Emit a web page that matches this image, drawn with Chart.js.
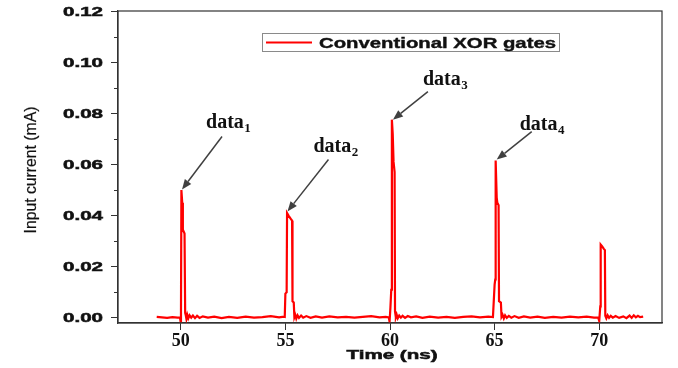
<!DOCTYPE html>
<html>
<head>
<meta charset="utf-8">
<script src="https://cdn.jsdelivr.net/npm/chart.js@4/dist/chart.umd.min.js"></script>
<style>
  html, body { margin: 0; padding: 0; background: #fff; }
  #wrap { width: 678px; height: 368px; }
</style>
</head>
<body>
<div id="wrap"><canvas id="chartLine" width="678" height="368"></canvas></div>
<script>
// time axis (ns) and input current (mA) of the trace
const timeNs = [
  48.85, 49.1, 49.35, 49.6, 49.85, 49.96,
  49.99, 50.01, 50.03, 50.07, 50.1, 50.18, 50.21, 50.24, 50.27, 50.31, 50.36, 50.42, 50.5, 50.58, 50.68, 50.78, 50.9,
  51.05, 51.3, 51.6, 51.95, 52.3, 52.7, 53.1, 53.5, 53.9, 54.3, 54.7, 54.93,
  54.97, 55.0, 55.06, 55.08, 55.15, 55.25, 55.32, 55.34, 55.4, 55.43, 55.47, 55.52, 55.58, 55.65, 55.75, 55.85,
  56.0, 56.2, 56.45, 56.75, 57.1, 57.5, 57.9, 58.3, 58.7, 59.1, 59.5, 59.8, 59.94,
  59.98, 60.02, 60.06, 60.09, 60.13, 60.17, 60.22, 60.24, 60.28, 60.32, 60.37, 60.44, 60.52, 60.6, 60.72, 60.85,
  61.0, 61.25, 61.55, 61.9, 62.3, 62.7, 63.1, 63.5, 63.9, 64.3, 64.7, 64.92,
  65.0, 65.03, 65.05, 65.1, 65.13, 65.19, 65.21, 65.3, 65.33, 65.38, 65.44, 65.5, 65.58, 65.68, 65.8, 65.95,
  66.15, 66.4, 66.7, 67.05, 67.4, 67.8, 68.2, 68.6, 69.0, 69.4, 69.75, 69.95,
  70.0, 70.05, 70.07, 70.14, 70.22, 70.27, 70.29, 70.34, 70.4, 70.47, 70.55, 70.65, 70.78, 70.95,
  71.15, 71.3, 71.45, 71.55, 71.65, 71.75, 71.85, 71.95, 72.1
];
const currentMA = [
  0.0004, 0.0002, 0.0000, 0.0003, 0.0001, 0.0002,
  -0.0014, 0.0020, 0.0500, 0.0450, 0.0345, 0.0330, 0.0020, 0.0010, -0.0004, 0.0012, -0.0002, 0.0010, 0.0001, 0.0009, -0.0001, 0.0008, 0.0000,
  0.0006, 0.0001, 0.0005, -0.0001, 0.0004, 0.0000, 0.0005, 0.0001, 0.0003, 0.0007, 0.0002, 0.0005,
  0.0004, 0.0095, 0.0100, 0.0410, 0.0400, 0.0388, 0.0380, 0.0065, 0.0060, 0.0003, 0.0012, -0.0003, 0.0010, 0.0000, 0.0009, 0.0001,
  0.0007, 0.0000, 0.0006, 0.0001, 0.0006, 0.0002, 0.0004, 0.0001, 0.0004, 0.0007, 0.0002, 0.0004, 0.0002,
  -0.0015, 0.0040, 0.0110, 0.0775, 0.0720, 0.0610, 0.0570, 0.0025, 0.0002, 0.0012, -0.0002, 0.0009, 0.0001, 0.0008, 0.0000, 0.0007,
  0.0002, 0.0006, 0.0000, 0.0005, 0.0001, 0.0004, 0.0000, 0.0004, 0.0006, 0.0002, 0.0005, 0.0003,
  0.0130, 0.0150, 0.0615, 0.0470, 0.0450, 0.0440, 0.0065, 0.0060, 0.0004, 0.0012, -0.0002, 0.0010, 0.0000, 0.0008, 0.0001, 0.0007,
  0.0000, 0.0006, 0.0001, 0.0005, 0.0000, 0.0004, 0.0001, 0.0005, 0.0002, 0.0005, 0.0001, 0.0002,
  -0.0012, 0.0045, 0.0287, 0.0280, 0.0270, 0.0265, 0.0008, -0.0002, 0.0010, 0.0000, 0.0008, 0.0001, 0.0007, 0.0000,
  0.0006, -0.0001, 0.0009, 0.0000, 0.0010, 0.0002, 0.0008, 0.0003, 0.0005
];

const seriesLabel = "Conventional XOR gates";
const xTitle = "Time (ns)";
const yTitle = "Input current (mA)";

const xTickValues = [50, 55, 60, 65, 70];
const yTickValues = [0, 0.02, 0.04, 0.06, 0.08, 0.10, 0.12];
const yTickLabels = ["0.00", "0.02", "0.04", "0.06", "0.08", "0.10", "0.12"];
const yMinorTicks = [0.01, 0.03, 0.05, 0.07, 0.09, 0.11];

// peak annotations
const noteText = ["data", "data", "data", "data"];
const noteSub = ["1", "2", "3", "4"];
const noteTipX = [50.06, 55.1, 60.14, 65.1];
const noteTipY = [0.0502, 0.0416, 0.0775, 0.0619];

// pixel offsets of arrow tail and label from the tip
const noteStyle = [
  { tail: [40, -53], label: [24, -62] },
  { tail: [41, -52], label: [26, -59] },
  { tail: [35, -28], label: [30, -35] },
  { tail: [35, -28], label: [23, -30] },
];

const AXIS_COLOR = "#333";
const SANS = '"Liberation Sans", Arial, sans-serif';
const SERIF = '"Liberation Serif", "Times New Roman", serif';

// wide bold labels of the original are drawn horizontally stretched
const stretchText = (ctx, text, x, y, font, width, align, thick) => {
  ctx.save();
  ctx.font = font;
  const w = ctx.measureText(text).width;
  ctx.translate(x, y);
  ctx.scale(width / w, 1);
  ctx.textAlign = align;
  ctx.textBaseline = "alphabetic";
  ctx.fillText(text, 0, 0);
  if (thick) {
    ctx.strokeStyle = ctx.fillStyle;
    ctx.lineWidth = thick;
    ctx.strokeText(text, 0, 0);
  }
  ctx.restore();
};

const framePlugin = {
  id: "frame",
  afterDraw(chart) {
    const { ctx, chartArea: a, scales } = chart;
    const y = scales.y;
    ctx.save();
    // frame
    ctx.strokeStyle = AXIS_COLOR;
    ctx.lineWidth = 1.2;
    ctx.strokeRect(a.left, a.top, a.right - a.left, a.bottom - a.top);

    // minor y ticks
    ctx.lineWidth = 1;
    ctx.beginPath();
    yMinorTicks.forEach(v => {
      const py = Math.round(y.getPixelForValue(v)) + 0.5;
      ctx.moveTo(a.left - 4, py);
      ctx.lineTo(a.left, py);
    });
    ctx.stroke();

    // y tick labels
    ctx.fillStyle = "#111";
    yTickValues.forEach((v, i) => {
      const py = y.getPixelForValue(v);
      stretchText(ctx, yTickLabels[i], 103, py + 4.5, `bold 12.5px ${SANS}`, 40, "right", 0.5);
    });

    // axis titles
    stretchText(ctx, xTitle, (a.left + a.right) / 2 + 2, 359, `bold 12.5px ${SANS}`, 91, "center", 0.5);
    ctx.save();
    ctx.translate(36, 170);
    ctx.rotate(-Math.PI / 2);
    stretchText(ctx, yTitle, 0, 0, `16px ${SANS}`, 127, "center", 0.2);
    ctx.restore();

    // legend
    ctx.fillStyle = "#fff";
    ctx.fillRect(262, 33, 297, 18);
    ctx.strokeStyle = "#8a8a8a";
    ctx.lineWidth = 1;
    ctx.strokeRect(262.5, 33.5, 297, 18);
    ctx.strokeStyle = "rgb(255,0,0)";
    ctx.lineWidth = 2;
    ctx.beginPath();
    ctx.moveTo(266, 42.5);
    ctx.lineTo(312, 42.5);
    ctx.stroke();
    ctx.fillStyle = "#111";
    stretchText(ctx, seriesLabel, 319, 47.5, `bold 15px ${SANS}`, 237, "left", 0.4);

    // arrows + labels
    const x = scales.x;
    noteText.forEach((t, i) => {
      const tx = x.getPixelForValue(noteTipX[i]);
      const ty = y.getPixelForValue(noteTipY[i]);
      const s = noteStyle[i];
      const sx = tx + s.tail[0];
      const sy = ty + s.tail[1];
      const ang = Math.atan2(ty - sy, tx - sx);
      const head = 10;
      const hw = 4;
      const bx = tx - head * Math.cos(ang);
      const by = ty - head * Math.sin(ang);
      ctx.strokeStyle = "#404040";
      ctx.fillStyle = "#404040";
      ctx.lineWidth = 1.5;
      ctx.beginPath();
      ctx.moveTo(sx, sy);
      ctx.lineTo(bx, by);
      ctx.stroke();
      ctx.beginPath();
      ctx.moveTo(tx, ty);
      ctx.lineTo(bx - hw * Math.sin(ang), by + hw * Math.cos(ang));
      ctx.lineTo(bx + hw * Math.sin(ang), by - hw * Math.cos(ang));
      ctx.closePath();
      ctx.fill();

      const lx = tx + s.label[0];
      const ly = ty + s.label[1];
      ctx.fillStyle = "#111";
      ctx.textAlign = "left";
      ctx.textBaseline = "alphabetic";
      ctx.font = `bold 20px ${SERIF}`;
      ctx.fillText(t, lx, ly);
      const w = ctx.measureText(t).width;
      ctx.font = `bold 13px ${SERIF}`;
      ctx.fillText(noteSub[i], lx + w + 0.5, ly + 4);
    });
    ctx.restore();
  },
};

const points = timeNs.map((t, i) => ({ x: t, y: currentMA[i] }));

const chart = new Chart(document.getElementById("chartLine").getContext("2d"), {
  type: "line",
  data: {
    datasets: [
      {
        label: seriesLabel,
        data: points,
        borderColor: "rgb(255,0,0)",
        borderWidth: 2.2,
        pointRadius: 0,
        tension: 0,
        fill: false,
      },
    ],
  },
  options: {
    responsive: false,
    animation: false,
    layout: { padding: { left: 0, right: 16, top: 11, bottom: 0 } },
    plugins: { legend: { display: false }, tooltip: { enabled: false } },
    scales: {
      x: {
        type: "linear",
        min: 47,
        max: 73,
        afterBuildTicks: scale => {
          scale.ticks = xTickValues.map(v => ({ value: v }));
        },
        afterFit: scale => {
          scale.height = 45;
        },
        grid: { drawOnChartArea: false, tickLength: 7, color: AXIS_COLOR, tickColor: AXIS_COLOR },
        border: { color: AXIS_COLOR, width: 1.2 },
        ticks: {
          autoSkip: false,
          maxRotation: 0,
          padding: 1,
          color: "#111",
          font: { family: SERIF, size: 18, weight: "bold" },
          callback: v => String(v),
        },
      },
      y: {
        min: -0.002,
        max: 0.12,
        afterBuildTicks: scale => {
          scale.ticks = yTickValues.map(v => ({ value: v }));
        },
        afterFit: scale => {
          scale.width = 118;
        },
        grid: { drawOnChartArea: false, tickLength: 7, color: AXIS_COLOR, tickColor: AXIS_COLOR },
        border: { color: AXIS_COLOR, width: 1.2 },
        ticks: { display: false },
      },
    },
  },
  plugins: [framePlugin],
});
</script>
</body>
</html>
